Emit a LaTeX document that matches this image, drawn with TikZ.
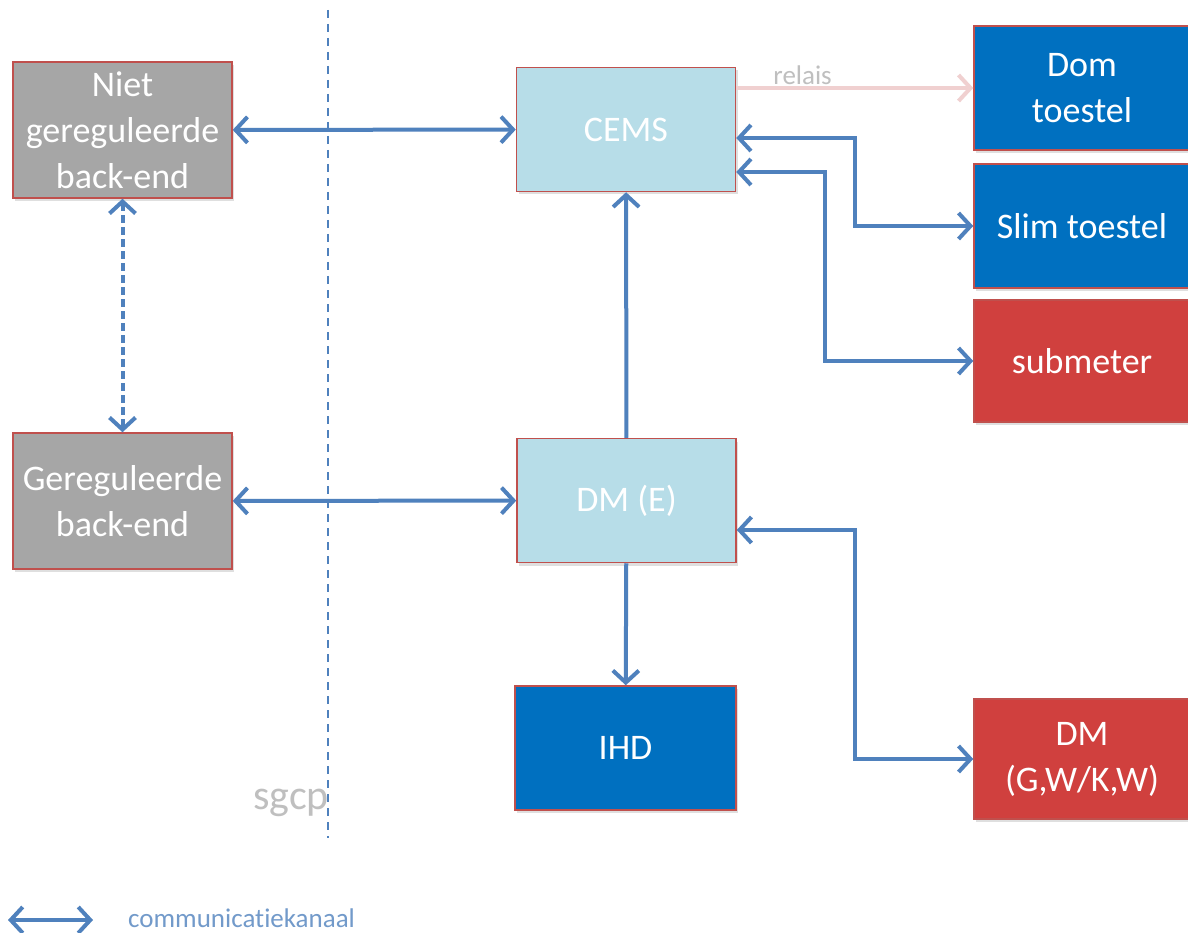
\documentclass[tikz,border=0pt]{standalone}
\usepackage{fontspec}
\setmainfont[Ligatures=NoCommon]{Carlito}
\usetikzlibrary{arrows.meta,shadows}
\definecolor{boxgray}{HTML}{A6A6A6}
\definecolor{boxred}{HTML}{C0504D}
\definecolor{lblue}{HTML}{B7DDE8}
\definecolor{dblue}{HTML}{0070C0}
\definecolor{redfill}{HTML}{D0403E}
\definecolor{arrblue}{HTML}{4F81BD}
\definecolor{relaispink}{HTML}{F0D0D0}
\definecolor{lightgraytext}{HTML}{BFBFBF}
\tikzset{
  box/.style={draw=boxred, line width=1.5pt, minimum width=#1, align=center, text=white,
    font=\fontsize{36}{46}\selectfont, inner sep=0pt,
    drop shadow={opacity=0.25, shadow xshift=2pt, shadow yshift=-3pt}},
  graybox/.style={box=219pt, fill=boxgray, minimum height=136pt},
  lbbox/.style={box=219pt, fill=lblue, minimum height=124pt},
  dbbox/.style={box=#1, fill=dblue, draw=boxred},
  rdbox/.style={box=#1, fill=redfill, draw=boxred},
  arr/.style={draw=arrblue, line width=4pt, {Straight Barb[length=12pt,width=26pt,line width=4pt]}-{Straight Barb[length=12pt,width=26pt,line width=4pt]}},
  arrone/.style={draw=arrblue, line width=4pt, -{Straight Barb[length=12pt,width=26pt,line width=4pt]}},
}
\begin{document}
\begin{tikzpicture}[x=1pt,y=-1pt]
\useasboundingbox[fill=white] (0,0) rectangle (1188,933);

% separator
\draw[arrblue, line width=1.8pt, dash pattern=on 8pt off 6pt] (328,10) -- (328,838);
\node[text=lightgraytext, font=\fontsize{42}{44}\selectfont, inner sep=0pt] (sgcp) at (291,803) {sgcp};

% left boxes
\node[graybox] (niet) at (122.5,130) {Niet\\gereguleerde\\back-end};
\node[graybox] (gereg) at (122.5,501) {Gereguleerde\\back-end};

% center
\node[lbbox] (cems) at (626,129.5) {CEMS};
\node[lbbox] (dme) at (626.5,500.5) {DM (E)};
\node[dbbox=221pt, minimum height=124pt] (ihd) at (625.5,748) {IHD};

% right
\node[dbbox=216pt, minimum height=124pt] (dom) at (1082,88) {Dom\\toestel};
\node[dbbox=216pt, minimum height=124pt] (slim) at (1082,226) {Slim toestel};
\node[rdbox=216pt, minimum height=122pt] (sub) at (1082,361) {submeter};
\node[rdbox=216pt, minimum height=120pt] (dmg) at (1082,759) {DM\\(G,W/K,W)};

% connectors
\draw[arr] (niet) -- (cems);
\draw[arr] (gereg) -- (dme);
\draw[arr, dash pattern=on 8pt off 4pt] (niet) -- (gereg);
\draw[arrone] (dme) -- (cems);
\draw[arrone] (dme) -- (ihd);
\draw[arr] (cems.east |- 0,138) -- (855,138) |- (slim.west);
\draw[arr] (cems.east |- 0,172) -- (825,172) |- (sub.west);
\draw[arr] (dme.east |- 0,530) -- (855,530) |- (dmg.west);

% relais
\draw[draw=relaispink, line width=4pt, -{Straight Barb[length=12pt,width=26pt,line width=4pt]}] (cems.east |- dom.west) -- node[pos=0.28, above, text=lightgraytext, font=\fontsize{27}{29}\selectfont, inner sep=1pt] (rel) {relais} (dom.west);

% legend
\coordinate (l1) at (8,920);
\coordinate (l2) at (93,920);
\draw[arr] (l1) -- (l2);
\node[anchor=west, text=arrblue!80!white, font=\fontsize{27}{29}\selectfont, inner sep=0pt] (leg) at (128,918) {communicatiekanaal};
\end{tikzpicture}
\end{document}
